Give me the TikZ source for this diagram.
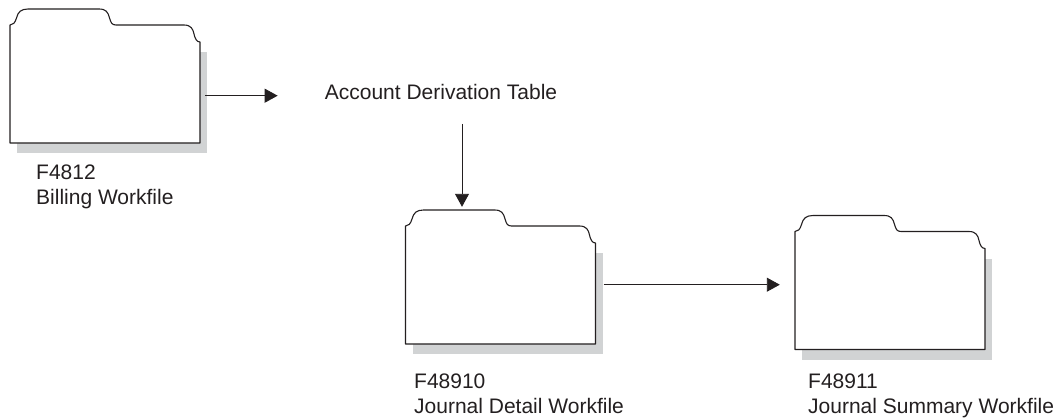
\documentclass[tikz,border=0pt]{standalone}
\usepackage{fontspec}
\setmainfont{Liberation Sans}
\usetikzlibrary{arrows.meta}
\definecolor{shadowgray}{HTML}{D1D3D4}
\definecolor{inkblack}{HTML}{231F20}
\tikzset{
    flow/.style={-{Triangle[length=13pt,width=14pt]}, line width=0.9pt, draw=inkblack},
    label/.style={inner sep=0pt, text=inkblack, font=\fontsize{21}{25}\selectfont},
    caption/.style={label, anchor=north west, align=left},
    folder/.pic={
        \fill[shadowgray] (7,10) rectangle (197,-91);
        \filldraw[fill=white, draw=inkblack, line width=1.1pt, line join=round] (0,0) -- (0,-118)
            .. controls (3,-118) and (5,-120) .. (6.5,-125)
            .. controls (8,-131) and (11,-134) .. (18,-134) -- (89,-134)
            .. controls (96,-134) and (98,-131) .. (99.5,-125)
            .. controls (101,-120) and (102,-118) .. (106,-118) -- (174,-118)
            .. controls (181,-118) and (183,-114) .. (184,-109)
            .. controls (185,-104) and (187,-101) .. (190,-101) -- (190,0) -- cycle;
        \node[minimum width=190pt, minimum height=134pt, inner sep=0pt] (-body) at (95,-67) {};
    }
}
\begin{document}
\begin{tikzpicture}[x=1pt, y=-1pt]
    \useasboundingbox (0,0) rectangle (1063,420);
    \pic (billing) at (10,143) {folder};
    \pic (detail) at (405.5,344) {folder};
    \pic (summary) at (795,349.5) {folder};
    \node[caption] (billingtext) at (36,165) {F4812\\Billing Workfile};
    \node[caption] (detailtext) at (414,373.5) {F48910\\Journal Detail Workfile};
    \node[caption] (summarytext) at (808,373.5) {F48911\\Journal Summary Workfile};
    \node[label] (table) at (441,92) {Account Derivation Table};
    \draw[flow, shorten <=5pt, shorten >=47pt] ([yshift=-19.7pt]billing-body.east) -- ([yshift=-3.7pt]table.west);
    \draw[flow, shorten <=24pt, shorten >=3pt] ([xshift=21pt]table.south) -- ([xshift=-38.5pt]detail-body.north);
    \draw[flow, shorten <=8pt, shorten >=15pt] ([yshift=-7.7pt]detail-body.east) -- ([yshift=-2.2pt]summary-body.west);
\end{tikzpicture}
\end{document}
